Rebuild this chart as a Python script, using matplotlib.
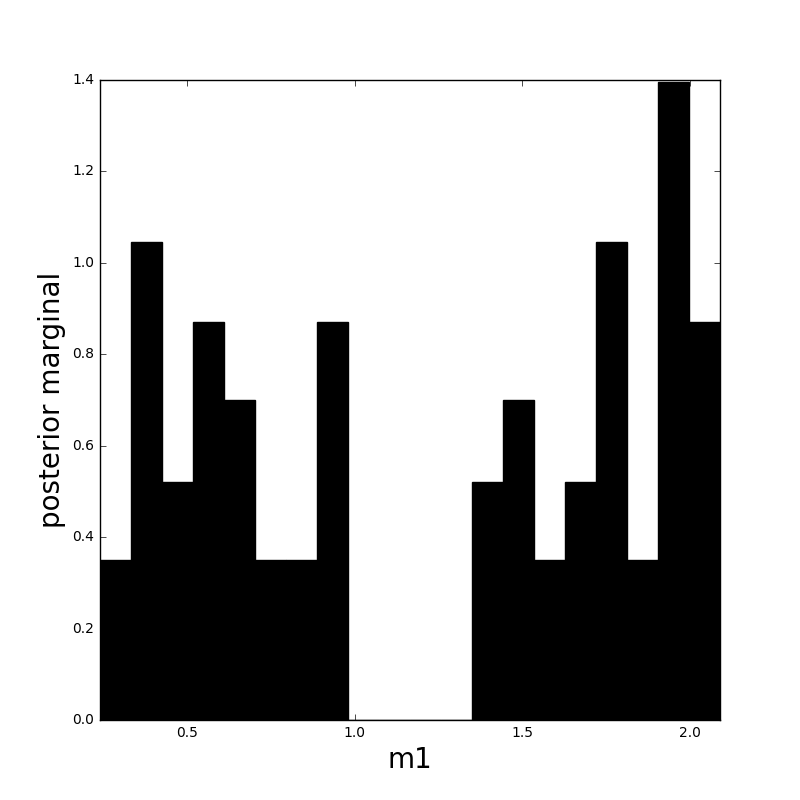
import numpy as np
import matplotlib
matplotlib.use("Agg")
import matplotlib.pyplot as plt

# histogram of m1 samples
x_min = 0.2395
x_max = 2.09
n_bins = 20
heights = [0.35, 1.045, 0.52, 0.87, 0.70, 0.35, 0.35, 0.87,
           0.0, 0.0, 0.0, 0.0,
           0.52, 0.70, 0.35, 0.52, 1.045, 0.35, 1.395, 0.87]

plt.style.use('classic')
fig, ax = plt.subplots(figsize=(8, 8), dpi=100, facecolor='white')
fig.subplots_adjust(left=0.125, right=0.9, bottom=0.1, top=0.9)

edges = np.linspace(x_min, x_max, n_bins + 1)
width = edges[1] - edges[0]
ax.bar(edges[:-1], heights, width=width, align='edge', color='black', edgecolor='black')

ax.set_xlim(x_min, x_max)
ax.set_ylim(0, 1.4)
ax.set_xticks([0.5, 1.0, 1.5, 2.0])
ax.set_xlabel('m1', fontsize=20)
ax.set_ylabel('posterior marginal', fontsize=20)
ax.tick_params(labelsize=10)

fig.savefig('out.png', dpi=100, facecolor='white')
